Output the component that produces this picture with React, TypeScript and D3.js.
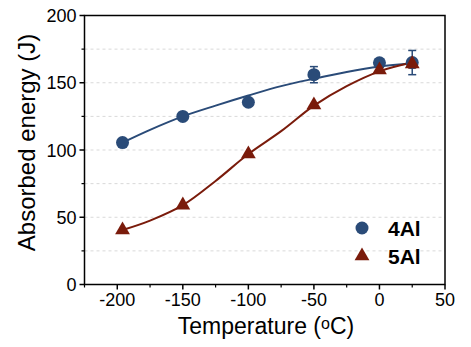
import * as d3 from "d3"

// measured test temperatures (°C)
const temps = [-196, -150, -100, -50, 0, 25]

// absorbed energy, 4Al
const energy4Al = [105.5, 125, 135.5, 156, 164.8, 165]
const err4Al = [0, 0, 0, 6, 3, 9]

// absorbed energy, 5Al
const energy5Al = [40.5, 59, 97, 133.5, 159.5, 164]
const err5Al = [0, 0, 0, 0, 0, 3]

// fitted transition curves
const fitTemps = [-196, -175, -150, -125, -100, -75, -50, -25, 0, 25]
const fit4Al = [105.5, 115, 125, 133, 140.5, 147.5, 153, 158, 162, 164.5]
const fit5Al = [40.5, 47.5, 59, 77, 97, 114, 133, 147.5, 158.5, 165]

const xTicks = [-200, -150, -100, -50, 0, 50]
const xMinor = [-225, -175, -125, -75, -25, 25]
const yTicks = [0, 50, 100, 150, 200]
const yMinor = [25, 75, 125, 175]
const yGrid = [25, 50, 75, 100, 125, 150, 175]

const BLUE = "#2a4b78"
const RED = "#7a1b0b"
const FONT = "'Liberation Sans', Arial, sans-serif"

const W = 471
const H = 347
const left = 84.5
const right = 445
const top = 15.5
const bottom = 284.5

export default function App() {
  const x = d3.scaleLinear().domain([-225, 50]).range([left, right])
  const y = d3.scaleLinear().domain([0, 200]).range([bottom, top])

  const fitLine = d3
    .line<number>()
    .x((_, i) => x(fitTemps[i]))
    .y((d) => y(d))
    .curve(d3.curveCatmullRom)

  const tri = d3.symbol().type(d3.symbolTriangle).size(95)()

  const errorBars = (vals: number[], errs: number[], color: string) =>
    temps.map((t, i) =>
      errs[i] > 0 ? (
        <g key={i} stroke={color} strokeWidth={1.5}>
          <line x1={x(t)} x2={x(t)} y1={y(vals[i] - errs[i])} y2={y(vals[i] + errs[i])} />
          <line x1={x(t) - 4} x2={x(t) + 4} y1={y(vals[i] - errs[i])} y2={y(vals[i] - errs[i])} />
          <line x1={x(t) - 4} x2={x(t) + 4} y1={y(vals[i] + errs[i])} y2={y(vals[i] + errs[i])} />
        </g>
      ) : null
    )

  return (
    <svg
      width={W}
      height={H}
      style={{ position: "absolute", left: 0, top: 0, background: "#fff" }}
      fontFamily={FONT}
    >
      {/* horizontal grid */}
      {yGrid.map((v) => (
        <line key={v} x1={left} x2={right} y1={y(v)} y2={y(v)} stroke="#d9d9d9" strokeWidth={1} strokeDasharray="3,3" />
      ))}

      {/* fit curves */}
      <path d={fitLine(fit4Al) || ""} fill="none" stroke={BLUE} strokeWidth={2} />
      <path d={fitLine(fit5Al) || ""} fill="none" stroke={RED} strokeWidth={2} />

      {errorBars(energy4Al, err4Al, BLUE)}
      {errorBars(energy5Al, err5Al, RED)}

      {/* 4Al markers */}
      {temps.map((t, i) => (
        <circle key={i} cx={x(t)} cy={y(energy4Al[i])} r={6.5} fill={BLUE} />
      ))}
      {/* 5Al markers */}
      {temps.map((t, i) => (
        <path key={i} d={tri || ""} transform={`translate(${x(t)},${y(energy5Al[i])})`} fill={RED} />
      ))}

      {/* frame */}
      <rect x={left} y={top} width={right - left} height={bottom - top} fill="none" stroke="#000" strokeWidth={1.5} />

      {/* y axis */}
      {yTicks.map((v) => (
        <g key={v}>
          <line x1={left - 5} x2={left} y1={y(v)} y2={y(v)} stroke="#000" strokeWidth={1.5} />
          <text x={left - 8} y={y(v) + 6.5} textAnchor="end" fontSize={18} fill="#000">
            {v}
          </text>
        </g>
      ))}
      {yMinor.map((v) => (
        <line key={v} x1={left - 3} x2={left} y1={y(v)} y2={y(v)} stroke="#000" strokeWidth={1.2} />
      ))}

      {/* x axis */}
      {xTicks.map((v) => (
        <g key={v}>
          <line x1={x(v)} x2={x(v)} y1={bottom} y2={bottom + 5} stroke="#000" strokeWidth={1.5} />
          <text x={x(v)} y={bottom + 21} textAnchor="middle" fontSize={18} fill="#000">
            {v}
          </text>
        </g>
      ))}
      {xMinor.map((v) => (
        <line key={v} x1={x(v)} x2={x(v)} y1={bottom} y2={bottom + 3} stroke="#000" strokeWidth={1.2} />
      ))}

      {/* axis titles */}
      <text transform="translate(35,142.5) rotate(-90)" textAnchor="middle" fontSize={24} fill="#000">
        Absorbed energy (J)
      </text>
      <text x={266} y={334} textAnchor="middle" fontSize={23} fill="#000">
        Temperature (<tspan fontSize={16} dy={-5}>o</tspan>
        <tspan dy={5}>C)</tspan>
      </text>

      {/* legend */}
      <circle cx={362} cy={228} r={6.5} fill={BLUE} />
      <text x={388} y={236} fontSize={21} fontWeight="bold" fill="#000">
        4Al
      </text>
      <path d={tri || ""} transform="translate(362,256)" fill={RED} />
      <text x={388} y={264} fontSize={21} fontWeight="bold" fill="#000">
        5Al
      </text>
    </svg>
  )
}
